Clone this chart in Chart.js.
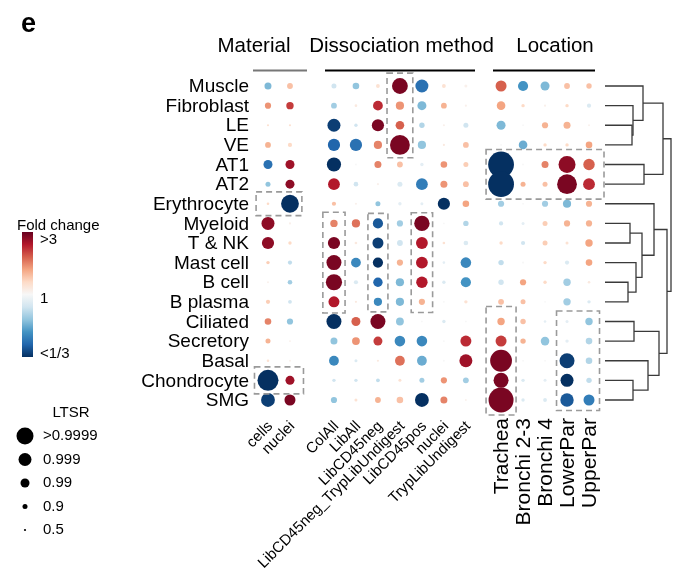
<!DOCTYPE html>
<html>
<head>
<meta charset="utf-8">
<script src="https://cdn.jsdelivr.net/npm/chart.js@4"></script>
<style>
  body { margin: 0; background: #fff; }
  canvas { display: block; }
</style>
</head>
<body>
<canvas id="grafico" width="686" height="575"></canvas>
<script>
// linhas (tipos celulares) e colunas de cada grupo
const rows = ['Muscle', 'Fibroblast', 'LE', 'VE', 'AT1', 'AT2', 'Erythrocyte', 'Myeloid', 'T & NK',
  'Mast cell', 'B cell', 'B plasma', 'Ciliated', 'Secretory', 'Basal', 'Chondrocyte', 'SMG'];
const groups = ['Material', 'Dissociation method', 'Location'];
const materialCols = ['cells', 'nuclei'];
const dissociationCols = ['ColAll', 'LibAll', 'LibCD45neg', 'LibCD45neg_TrypLibUndigest', 'LibCD45pos', 'nuclei', 'TrypLibUndigest'];
const locationCols = ['Trachea', 'Bronchi 2-3', 'Bronchi 4', 'LowerPar', 'UpperPar'];

// fold change em log base 3 (-1 = <1/3, 1 = >3)
const materialFC = [
  [-0.45, 0.3], [0.45, 0.7], [0.15, 0.15], [0.35, 0.2], [-0.75, 0.85], [-0.4, 0.9], [0.2, -1],
  [0.9, 0.05], [0.9, 0.2], [0.25, -0.25], [0.05, -0.35], [0.25, -0.2], [0.5, -0.4], [0.35, 0.05],
  [0.15, 0.05], [-1, 0.85], [-0.95, 0.95]
];
// LTSR como -log10(1 - LTSR)
const materialLTSR = [
  [1.5, 1.2], [1.3, 1.6], [0.3, 0.3], [1.2, 0.8], [2, 2], [1.0, 2], [0.4, 4.2],
  [3, 0.3], [2.8, 0.6], [0.6, 0.8], [0.2, 0.9], [0.8, 0.7], [1.4, 1.3], [1.0, 0.2],
  [0.4, 0.2], [5, 2], [3.2, 2.5]
];

const dissociationFC = [
  [-0.2, -0.4, 0.15, 0.95, -0.75, 0.15, 0.05],
  [-0.35, 0.1, 0.75, 0.45, -0.45, 0.35, 0.05],
  [-0.95, -0.2, 0.95, 0.6, -0.3, 0.05, -0.2],
  [-0.8, -0.75, 0.5, 0.95, -0.4, 0.1, 0.3],
  [-1, 0, 0.5, 0.3, -0.1, 0.45, 0.25],
  [0.8, -0.2, 0.05, -0.15, -0.7, 0.45, 0.3],
  [0.3, 0.05, -0.4, -0.1, -0.1, -1, 0.4],
  [0.5, 0.55, -0.85, -0.35, 0.95, 0, -0.3],
  [0.95, 0.1, -0.95, -0.2, 0.8, 0.15, -0.15],
  [0.95, -0.65, -1, 0.35, 0.8, -0.1, -0.65],
  [0.95, -0.15, -0.8, -0.45, 0.8, -0.15, -0.6],
  [0.8, 0.1, -0.65, -0.45, 0.35, 0, 0.15],
  [-1, 0.6, 0.95, -0.4, 0, -0.15, 0],
  [-0.4, 0.45, 0.7, -0.65, -0.65, 0, 0.75],
  [-0.65, -0.15, 0.1, 0.55, -0.5, 0, 0.85],
  [-0.2, -0.2, -0.25, 0.15, -0.35, 0.45, -0.35],
  [-0.4, 0.15, 0.35, 0.3, -1, 0.5, 0.05]
];
const dissociationLTSR = [
  [1.0, 1.4, 0.7, 3.7, 3.0, 0.7, 0.5],
  [1.2, 0.4, 2.2, 1.8, 2.0, 1.2, 0.3],
  [3.0, 0.6, 2.8, 1.9, 1.1, 0.3, 1.0],
  [2.8, 2.8, 1.8, 4.7, 1.8, 0.3, 1.2],
  [3.3, 0.2, 1.5, 1.2, 0.6, 1.4, 1.0],
  [2.7, 0.9, 0.3, 1.0, 2.7, 1.5, 1.2],
  [0.8, 0.3, 1.0, 0.6, 0.5, 2.8, 1.4],
  [1.6, 1.8, 2.3, 1.3, 3.6, 0.2, 1.1],
  [2.8, 0.4, 2.5, 1.2, 2.7, 0.4, 0.9],
  [3.5, 2.2, 2.3, 1.3, 2.7, 0.4, 2.4],
  [3.8, 0.8, 2.1, 1.8, 2.6, 0.6, 2.3],
  [2.5, 0.3, 1.8, 1.8, 1.3, 0.2, 0.6],
  [3.5, 2.0, 3.5, 1.7, 0.2, 0.6, 0.2],
  [1.5, 1.7, 2.0, 2.4, 2.4, 0.2, 2.5],
  [2.2, 0.5, 0.3, 2.2, 2.2, 0.2, 3.0],
  [0.6, 0.6, 0.7, 0.5, 1.0, 1.3, 1.2],
  [1.3, 0.5, 1.2, 1.4, 3.2, 1.5, 0.2]
];

const locationFC = [
  [0.6, -0.6, -0.45, 0.3, 0.3],
  [0.4, 0.2, 0.05, 0.2, -0.15],
  [-0.45, 0, 0.35, 0.35, 0.05],
  [0, -0.5, 0.2, 0.2, 0.4],
  [-1, 0, 0.5, 0.9, 0.6],
  [-1, 0.35, 0.3, 0.95, 0.75],
  [-0.35, 0, -0.35, -0.45, 0.35],
  [-0.2, -0.1, 0.25, 0.35, 0.35],
  [0.2, -0.2, 0.25, 0.15, 0.4],
  [-0.25, 0, 0.2, -0.15, 0.4],
  [-0.2, 0.4, 0.2, -0.35, 0.1],
  [0.3, 0.3, 0, -0.35, -0.15],
  [0.4, 0.3, -0.1, -0.1, -0.4],
  [0.7, 0.35, -0.4, -0.1, -0.3],
  [0.95, 0, 0, -0.95, -0.3],
  [0.95, -0.15, -0.1, -1, -0.25],
  [0.95, -0.15, -0.15, -0.85, -0.7]
];
const locationLTSR = [
  [2.5, 2.3, 2.0, 1.2, 1.1],
  [1.9, 0.6, 0.3, 0.6, 0.8],
  [2.0, 0.2, 1.3, 1.5, 0.2],
  [0.2, 1.9, 0.6, 0.6, 1.4],
  [6.2, 0.2, 1.5, 4.0, 2.6],
  [6.2, 1.0, 1.0, 4.7, 2.7],
  [1.3, 0.2, 1.3, 1.8, 1.3],
  [0.8, 0.5, 1.0, 1.3, 1.3],
  [0.6, 0.8, 1.0, 0.5, 1.6],
  [1.1, 0.3, 0.6, 0.8, 1.4],
  [1.1, 1.3, 0.6, 1.6, 0.4],
  [1.2, 1.0, 0.2, 1.6, 0.6],
  [1.6, 1.1, 0.4, 0.5, 1.6],
  [2.5, 1.1, 1.9, 0.6, 1.4],
  [5.2, 0.2, 0.2, 3.5, 1.4],
  [3.5, 0.6, 0.5, 3.0, 1.1],
  [6.0, 0.6, 0.7, 3.1, 2.5]
];

// caixas tracejadas: grupo, colunas e linhas (indices)
const highlightBoxes = [
  { group: 0, cols: [0, 1], rows: [6, 6] },
  { group: 0, cols: [0, 1], rows: [15, 15] },
  { group: 1, cols: [3, 3], rows: [0, 3] },
  { group: 1, cols: [0, 0], rows: [7, 11] },
  { group: 1, cols: [2, 2], rows: [7, 11] },
  { group: 1, cols: [4, 4], rows: [7, 11] },
  { group: 2, cols: [0, 4], rows: [4, 5] },
  { group: 2, cols: [0, 0], rows: [12, 16] },
  { group: 2, cols: [3, 4], rows: [12, 16] }
];

// dendrograma: [filho a, filho b, altura]; indices >= 17 sao uniões anteriores
const dendroMerges = [
  [2, 3, 27], [1, 17, 28], [0, 18, 38], [4, 5, 39], [19, 20, 58],
  [7, 8, 25], [10, 11, 23], [9, 23, 31], [22, 24, 37], [6, 25, 49],
  [12, 13, 29], [15, 16, 28], [14, 28, 43], [27, 29, 54], [26, 30, 62], [21, 31, 66]
];

const legendLTSR = ['>0.9999', '0.999', '0.99', '0.9', '0.5'];
const legendLTSRValues = [0.9999, 0.999, 0.99, 0.9, 0.5];

// ---------- layout / estilos ----------
const groupCols = [materialCols, dissociationCols, locationCols];
const groupFC = [materialFC, dissociationFC, locationFC];
const groupLTSR = [materialLTSR, dissociationLTSR, locationLTSR];
const groupStart = [0, 3, 10.6];
const headerX = [254, 401.5, 555];          // centro do titulo de cada grupo
const headerLine = [[253, 307], [325, 475], [493, 595]];
const FONT = '"Liberation Sans", Arial, sans-serif';

const rdbu = ['#053061', '#2166ac', '#4393c3', '#92c5de', '#d1e5f0', '#f7f7f7',
  '#fddbc7', '#f4a582', '#d6604d', '#b2182b', '#67001f'];

function hexRgb(h) {
  return [parseInt(h.slice(1, 3), 16), parseInt(h.slice(3, 5), 16), parseInt(h.slice(5, 7), 16)];
}

function corFC(v) {
  let t = Math.max(0, Math.min(1, (v + 1) / 2)) * (rdbu.length - 1);
  let i = Math.min(Math.floor(t), rdbu.length - 2);
  let f = t - i;
  let a = hexRgb(rdbu[i]), b = hexRgb(rdbu[i + 1]);
  let c = a.map((x, k) => Math.round(x + (b[k] - x) * f));
  return `rgb(${c[0]},${c[1]},${c[2]})`;
}

function raio(score) {
  return 0.5 + 2 * score;
}

// monta os pontos a partir das tabelas
const pontos = [];
const cores = [];
groupCols.forEach(function(cols, g) {
  rows.forEach(function(row, r) {
    cols.forEach(function(col, c) {
      pontos.push({ x: groupStart[g] + c, y: r, r: raio(groupLTSR[g][r][c]) });
      cores.push(corFC(groupFC[g][r][c]));
    });
  });
});

const desenhoExtra = {
  id: 'desenhoExtra',
  afterDatasetsDraw(chart) {
    const ctx = chart.ctx;
    const xs = chart.scales.x, ys = chart.scales.y;
    const px = (g, c) => xs.getPixelForValue(groupStart[g] + c);
    const py = r => ys.getPixelForValue(r);

    ctx.save();

    // caixas tracejadas
    ctx.setLineDash([6, 4]);
    ctx.strokeStyle = '#9a9a9a';
    ctx.lineWidth = 1.6;
    highlightBoxes.forEach(function(b) {
      let maxR = 0;
      for (let r = b.rows[0]; r <= b.rows[1]; r++)
        for (let c = b.cols[0]; c <= b.cols[1]; c++)
          maxR = Math.max(maxR, raio(groupLTSR[b.group][r][c]));
      let pad = Math.max(10, Math.min(maxR + 3, 15));
      let x0 = px(b.group, b.cols[0]) - pad, x1 = px(b.group, b.cols[1]) + pad;
      let y0 = py(b.rows[0]) - pad, y1 = py(b.rows[1]) + pad;
      ctx.strokeRect(x0, y0, x1 - x0, y1 - y0);
    });
    ctx.setLineDash([]);

    // titulos dos grupos e linhas
    ctx.fillStyle = '#000';
    ctx.font = '20.5px ' + FONT;
    ctx.textAlign = 'center';
    ctx.textBaseline = 'middle';
    groups.forEach(function(nome, g) {
      ctx.fillText(nome, headerX[g], 46);
      ctx.strokeStyle = g === 0 ? '#777' : '#000';
      ctx.lineWidth = 2;
      ctx.beginPath();
      ctx.moveTo(headerLine[g][0], 70.5);
      ctx.lineTo(headerLine[g][1], 70.5);
      ctx.stroke();
    });

    // rotulos das linhas
    ctx.font = '19px ' + FONT;
    ctx.textAlign = 'right';
    rows.forEach(function(row, r) {
      ctx.fillText(row, 249, py(r) + 1);
    });

    // rotulos das colunas (45 graus)
    ctx.font = '15px ' + FONT;
    [0, 1].forEach(function(g) {
      groupCols[g].forEach(function(col, c) {
        ctx.save();
        ctx.translate(px(g, c) + 2.5, 424);
        ctx.rotate(-Math.PI / 4);
        ctx.textAlign = 'right';
        ctx.fillText(col, 0, 0);
        ctx.restore();
      });
    });
    // rotulos de local (90 graus)
    ctx.font = '21px ' + FONT;
    locationCols.forEach(function(col, c) {
      ctx.save();
      ctx.translate(px(2, c) + 1, 418);
      ctx.rotate(-Math.PI / 2);
      ctx.textAlign = 'right';
      ctx.fillText(col, 0, 0);
      ctx.restore();
    });

    // dendrograma
    const x0 = 605;
    const nos = rows.map((r, i) => ({ y: py(i), h: 0 }));
    ctx.strokeStyle = '#3a3a3a';
    ctx.lineWidth = 1.3;
    dendroMerges.forEach(function(m) {
      let a = nos[m[0]], b = nos[m[1]], h = m[2];
      ctx.beginPath();
      ctx.moveTo(x0 + a.h, a.y);
      ctx.lineTo(x0 + h, a.y);
      ctx.lineTo(x0 + h, b.y);
      ctx.lineTo(x0 + b.h, b.y);
      ctx.stroke();
      nos.push({ y: (a.y + b.y) / 2, h: h });
    });

    // letra do painel
    ctx.font = 'bold 27px ' + FONT;
    ctx.textAlign = 'left';
    ctx.textBaseline = 'alphabetic';
    ctx.fillText('e', 21, 32);
    ctx.textBaseline = 'middle';

    // legenda de cor
    ctx.font = '15px ' + FONT;
    ctx.fillText('Fold change', 17, 226);
    const grad = ctx.createLinearGradient(0, 232, 0, 357);
    rdbu.slice().reverse().forEach((c, i) => grad.addColorStop(i / (rdbu.length - 1), c));
    ctx.fillStyle = grad;
    ctx.fillRect(22, 232, 11, 125);
    ctx.fillStyle = '#000';
    ctx.fillText('>3', 40, 240);
    ctx.fillText('1', 40, 299);
    ctx.fillText('<1/3', 40, 354);

    // legenda LTSR
    ctx.textAlign = 'center';
    ctx.fillText('LTSR', 71, 413);
    ctx.textAlign = 'left';
    legendLTSR.forEach(function(lab, i) {
      let y = 436 + i * 23.5;
      ctx.beginPath();
      ctx.arc(25, y, raio(-Math.log10(1 - legendLTSRValues[i])), 0, Math.PI * 2);
      ctx.fill();
      ctx.fillText(lab, 43, y);
    });

    ctx.restore();
  }
};

new Chart(document.getElementById('grafico'), {
  type: 'bubble',
  data: {
    datasets: [{
      data: pontos,
      backgroundColor: cores,
      borderWidth: 0,
      clip: false
    }]
  },
  options: {
    responsive: false,
    animation: false,
    layout: { padding: { left: 246, right: 75, top: 76.2, bottom: 165.2 } },
    plugins: { legend: { display: false }, tooltip: { enabled: false } },
    scales: {
      x: { type: 'linear', min: -1, max: 15.6, display: false },
      y: { type: 'linear', min: -0.5, max: 16.5, reverse: true, display: false }
    }
  },
  plugins: [desenhoExtra]
});
</script>
</body>
</html>
